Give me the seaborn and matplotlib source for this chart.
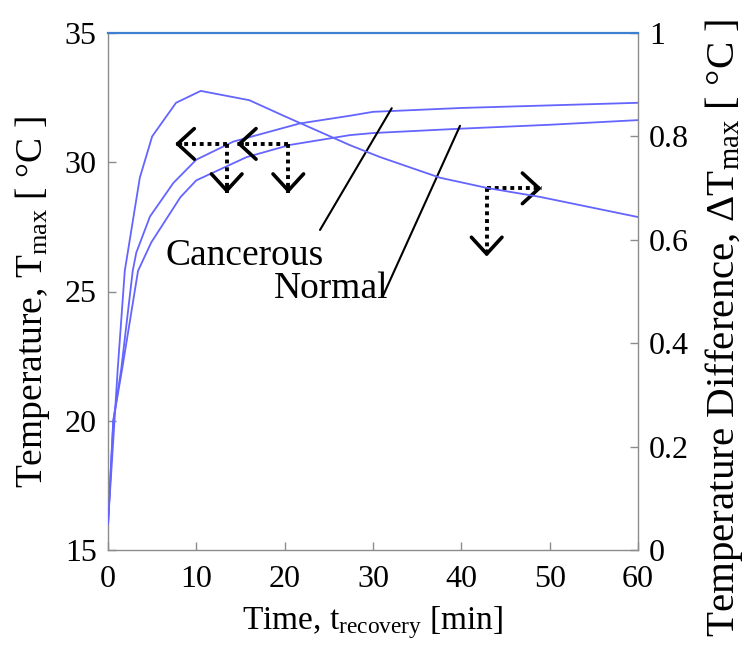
import matplotlib
matplotlib.use("Agg")
import matplotlib.pyplot as plt
import seaborn as sns
import pandas as pd

# ---- data ----
t_cancer = [0, 0.6, 1.5, 2.8, 3.2, 4.75, 7.4, 10, 14.2, 21.7, 27.4, 30, 40, 50, 60]
T_cancer = [16.0, 20.0, 22.0, 25.8, 26.5, 27.9, 29.2, 30.1, 30.8, 31.5, 31.8, 31.95, 32.1, 32.2, 32.3]

t_normal = [0, 0.6, 1.6, 3.4, 4.9, 8.2, 10, 15.7, 20.6, 27.4, 30, 40, 50, 60]
T_normal = [16.0, 20.0, 22.0, 25.8, 26.9, 28.65, 29.3, 30.2, 30.67, 31.05, 31.13, 31.3, 31.45, 31.63]

t_diff = [0, 1.1, 1.9, 3.6, 5, 7.7, 10.5, 16, 20, 27.4, 30.8, 37.6, 43, 48.9, 60]
dT_diff = [0.05, 0.35, 0.54, 0.72, 0.80, 0.865, 0.888, 0.870, 0.839, 0.783, 0.760, 0.72, 0.70, 0.683, 0.644]

x_ticks = [0, 10, 20, 30, 40, 50, 60]
left_ticks = [15, 20, 25, 30, 35]
right_ticks = [0, 0.2, 0.4, 0.6, 0.8, 1.0]
right_labels = ["0", "0.2", "0.4", "0.6", "0.8", "1"]

# annotation geometry (data coords, left axis)
leader_cancer = [(24.0, 27.38), (32.12, 32.09)]
leader_normal = [(31.13, 24.83), (39.85, 31.41)]
# (corner, horizontal tip x, vertical tip y)
arrow_sets = [((13.44, 30.71), 7.58, 28.80),
              ((20.41, 30.71), 14.57, 28.80),
              ((42.87, 28.99), 49.1, 26.35)]

# ---- style ----
sns.set_theme(style="ticks")
plt.rcParams["font.family"] = ["Liberation Serif", "DejaVu Serif"]
plt.rcParams["mathtext.fontset"] = "custom"
plt.rcParams["mathtext.rm"] = "Liberation Serif"
plt.rcParams["mathtext.it"] = "Liberation Serif:italic"
plt.rcParams["text.color"] = "black"
plt.rcParams["axes.labelcolor"] = "black"

line_color = "#6464ff"
spine_gray = "#8c8c8c"
tick_fs = 23

fig = plt.figure(figsize=(7.47, 6.55), dpi=100)
ax = fig.add_axes([108/747, 105/655, 530/747, 517/655])
ax2 = ax.twinx()

df_c = pd.DataFrame({"t": t_cancer, "T": T_cancer})
df_n = pd.DataFrame({"t": t_normal, "T": T_normal})
df_d = pd.DataFrame({"t": t_diff, "d": dT_diff})

sns.lineplot(data=df_c, x="t", y="T", ax=ax, color=line_color, lw=1.3, sort=False)
sns.lineplot(data=df_n, x="t", y="T", ax=ax, color=line_color, lw=1.3, sort=False)
sns.lineplot(data=df_d, x="t", y="d", ax=ax2, color=line_color, lw=1.3, sort=False)

ax.set_xlim(0, 60)
ax.set_ylim(15, 35)
ax2.set_ylim(0, 1)
ax.set_xticks(x_ticks)
ax.set_xticklabels([str(v) for v in x_ticks])
ax.set_yticks(left_ticks)
ax.set_yticklabels([str(v) for v in left_ticks])
ax2.set_yticks(right_ticks)
ax2.set_yticklabels(right_labels)

for a in (ax, ax2):
    for s in a.spines.values():
        s.set_color(spine_gray)
        s.set_linewidth(1.0)
ax.spines["top"].set_visible(False)
ax.spines["right"].set_visible(False)
ax2.spines["left"].set_visible(False)
ax2.spines["bottom"].set_visible(False)
ax2.spines["top"].set_color("#3d7fd0")
ax2.spines["top"].set_linewidth(1.6)

ax.tick_params(axis="both", direction="in", length=6, width=1, color=spine_gray,
               labelsize=tick_fs, labelcolor="black")
ax.tick_params(axis="x", pad=11)
ax.tick_params(axis="y", pad=8)
ax2.tick_params(axis="y", direction="in", length=6, width=1, color=spine_gray,
                labelsize=tick_fs, labelcolor="black", pad=8)

ax.set_xlabel(r"Time, t$_{\rm recovery}$ [min]", fontsize=24, labelpad=7)
ax.set_ylabel(r"Temperature, T$_{\rm max}$ [ °C ]", fontsize=27)
ax.yaxis.set_label_coords(-0.106, 0.48)
ax2.set_ylabel(r"Temperature Difference, $\Delta$T$_{\rm max}$ [ °C ]", fontsize=29.5)
ax2.yaxis.set_label_coords(1.123, 0.43)

# leader lines
for (p0, p1) in (leader_cancer, leader_normal):
    ax.plot([p0[0], p1[0]], [p0[1], p1[1]], color="black", lw=1.5)

ax.text(15.5, 26.4, "Cancerous", fontsize=27, ha="center", va="center")
ax.text(25.3, 25.1, "Normal", fontsize=27, ha="center", va="center")

# dotted arrows
head = dict(arrowstyle="->,head_length=0.6,head_width=0.55", color="black",
            lw=2.6, mutation_scale=20, shrinkA=0, shrinkB=0)
for (cx, cy), hx, vy in arrow_sets:
    ax.plot([cx, hx], [cy, cy], color="black", lw=2.8, ls=(0, (1, 1)),
            dash_capstyle="butt")
    ax.plot([cx, cx], [cy, vy], color="black", lw=2.8, ls=(0, (1, 1)),
            dash_capstyle="butt")
    sgn = 1 if hx < cx else -1
    ax.annotate("", xy=(hx, cy), xytext=(sgn * 4, 0), textcoords="offset points",
                arrowprops=head)
    ax.annotate("", xy=(cx, vy), xytext=(0, 4), textcoords="offset points",
                arrowprops=head)

fig.savefig("out.png", dpi=100)
